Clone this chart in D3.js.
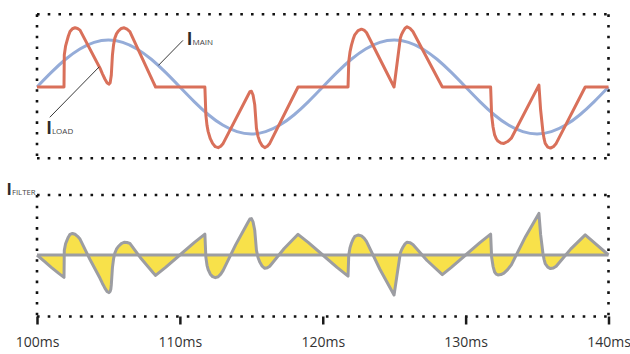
<!DOCTYPE html>
<html>
<head>
<meta charset="utf-8">
<script src="https://cdn.jsdelivr.net/npm/d3@7"></script>
<style>
  html, body { margin: 0; padding: 0; background: #fff; }
  text { font-family: "Open Sans", sans-serif; }
</style>
</head>
<body>
<div id="chart"></div>
<script>
// Data (time in ms, current in relative units)

// Mains current, sampled every 1 ms
const mainTimes = d3.range(100, 141);
const mainValues = [
  0, 0.31, 0.59, 0.81, 0.95, 1, 0.95, 0.81, 0.59, 0.31,
  0, -0.31, -0.59, -0.81, -0.95, -1, -0.95, -0.81, -0.59, -0.31,
  0, 0.31, 0.59, 0.81, 0.95, 1, 0.95, 0.81, 0.59, 0.31,
  0, -0.31, -0.59, -0.81, -0.95, -1, -0.95, -0.81, -0.59, -0.31,
  0
];

// Load current
const loadTimes = [
  100, 101.89, 101.91, 102.0, 102.08, 102.19, 102.31, 102.48, 102.66, 102.84, 103.01,
  104.41, 104.58, 104.75, 104.9, 105.03, 105.12, 105.2, 105.28, 105.36, 105.45, 105.56,
  105.69, 105.9, 106.1, 106.3, 106.5, 108.13, 108.3,
  111.75, 111.82, 111.9, 111.98, 112.13, 112.29, 112.48, 112.68, 112.86, 113.03,
  114.78, 114.9, 115.01, 115.12, 115.24, 115.36, 115.47, 115.59, 115.76, 115.94, 116.12, 116.29,
  118.27,
  121.77, 121.82, 121.91, 122.01, 122.12, 122.24, 122.47, 122.71, 122.89, 123.06,
  124.99, 125.43, 125.52, 125.62, 125.76, 125.9, 126.1, 126.31, 128.37,
  131.75, 131.82, 131.92, 132.03, 132.14, 132.26, 132.47, 132.68, 132.94, 133.2,
  135.13, 135.25, 135.41, 135.49, 135.57, 135.75, 135.94, 136.14, 136.34, 138.37, 140
];
const loadValues = [
  0, 0, 0.68, 0.87, 0.96, 1.08, 1.18, 1.24, 1.26, 1.245, 1.21,
  0.40, 0.28, 0.17, 0.09, 0.06, 0.09, 0.25, 0.68, 0.90, 1.04, 1.13,
  1.19, 1.245, 1.26, 1.23, 1.18, 0.11, 0,
  0, -0.60, -0.82, -0.95, -1.10, -1.20, -1.27, -1.29, -1.26, -1.20,
  -0.17, -0.10, -0.09, -0.17, -0.38, -0.88, -1.05, -1.16, -1.25, -1.29, -1.26, -1.20,
  0,
  0, 0.54, 0.75, 0.89, 1.01, 1.11, 1.20, 1.23, 1.21, 1.16,
  0, 1.04, 1.12, 1.18, 1.25, 1.28, 1.25, 1.18, 0,
  0, -0.60, -0.85, -1.02, -1.10, -1.15, -1.19, -1.20, -1.16, -1.09,
  0.04, -0.49, -0.95, -1.10, -1.20, -1.28, -1.30, -1.27, -1.20, 0, 0
];

// Filter current
const filterTimes = [
  100, 100.5, 101, 101.5, 101.89, 101.91, 102.0, 102.08, 102.19, 102.31, 102.48, 102.66,
  102.84, 103.01, 103.7, 104.41, 104.58, 104.69, 104.75, 104.9, 105.03, 105.12, 105.17,
  105.2, 105.28, 105.36, 105.45, 105.56, 105.69, 105.9, 106.1, 106.3, 106.5, 107.3,
  108.13, 108.3,
  109, 110, 111, 111.75, 111.82, 111.9, 111.98, 112.13, 112.29, 112.48, 112.68, 112.86,
  113.03, 113.9, 114.78, 114.9, 115.01, 115.12, 115.24, 115.36, 115.47, 115.59, 115.76,
  115.94, 116.12, 116.29, 117.3, 118.27,
  119, 120, 121, 121.77, 121.82, 121.91, 122.01, 122.12, 122.24, 122.47, 122.71, 122.89,
  123.06, 124.0, 124.99, 125.43, 125.52, 125.62, 125.76, 125.9, 126.1, 126.31, 127.3, 128.37,
  129, 130, 131, 131.75, 131.82, 131.92, 132.03, 132.14, 132.26, 132.47, 132.68, 132.94,
  133.2, 134.2, 135.13, 135.25, 135.41, 135.49, 135.57, 135.75, 135.94, 136.14, 136.34,
  137.35, 138.37, 139, 140
];
const filterValues = [
  0, -0.156, -0.309, -0.454, -0.559, 0.115, 0.282, 0.352, 0.445, 0.516, 0.538, 0.518,
  0.467, 0.399, -0.107, -0.583, -0.711, -0.785, -0.827, -0.91, -0.94, -0.909, -0.849,
  -0.748, -0.316, -0.094, 0.05, 0.145, 0.213, 0.285, 0.319, 0.313, 0.289, -0.095,
  -0.444, -0.509,
  -0.309, 0, 0.309, 0.522, -0.059, -0.258, -0.368, -0.48, -0.541, -0.567, -0.543, -0.479,
  -0.384, 0.253, 0.827, 0.9, 0.91, 0.829, 0.617, 0.114, -0.061, -0.177, -0.279,
  -0.333, -0.32, -0.281, 0.162, 0.517,
  0.309, 0, -0.309, -0.528, -0.001, 0.185, 0.3, 0.392, 0.463, 0.5, 0.478, 0.422,
  0.34, -0.356, -1.0, 0.049, 0.133, 0.199, 0.278, 0.32, 0.309, 0.264, -0.137, -0.49,
  -0.309, 0, 0.309, 0.522, -0.059, -0.283, -0.425, -0.478, -0.498, -0.489, -0.453, -0.364,
  -0.245, 0.464, 1.04, 0.508, 0.044, -0.109, -0.213, -0.303, -0.339, -0.327, -0.281,
  0.147, 0.504, 0.309, 0
];

// Axis ticks
const tickValues = [100, 110, 120, 130, 140];
const tickLabels = ["100ms", "110ms", "120ms", "130ms", "140ms"];

// Layout
const width = 630;
const height = 354;
const left = 37, right = 608.5;
const top1 = 14.3, bottom1 = 158.3;
const top2 = 195, bottom2 = 316.5;

const mainColor = "#95acd8";
const loadColor = "#d9705a";
const filterFill = "#f8e14a";
const filterStroke = "#9c9da2";

const svg = d3.select("#chart")
  .append("svg")
    .attr("width", width)
    .attr("height", height);

const x = d3.scaleLinear().domain([100, 140]).range([left, right]);
const yTop = d3.scaleLinear().domain([-1.5, 1.5]).range([157.5, 16.5]);
const yBot = d3.scaleLinear().domain([-1.5, 1.5]).range([315, 195]);

// Dotted frame
function dottedFrame(x0, y0, x1, y1) {
  const g = svg.append("g")
    .attr("stroke", "#111")
    .attr("stroke-width", 2.6)
    .attr("stroke-dasharray", "2.6 8.1")
    .attr("fill", "none");
  g.append("line").attr("x1", x0).attr("y1", y0).attr("x2", x1).attr("y2", y0);
  g.append("line").attr("x1", x0).attr("y1", y1).attr("x2", x1).attr("y2", y1);
  g.append("line").attr("x1", x0).attr("y1", y0).attr("x2", x0).attr("y2", y1);
  g.append("line").attr("x1", x1).attr("y1", y0).attr("x2", x1).attr("y2", y1);
}
dottedFrame(left, top1, right, bottom1);
dottedFrame(left, top2, right, bottom2);

// Top panel lines
const mainData = mainTimes.map((t, i) => ({t, v: mainValues[i]}));
const loadData = loadTimes.map((t, i) => ({t, v: loadValues[i]}));
const filterData = filterTimes.map((t, i) => ({t, v: filterValues[i]}));

svg.append("path")
  .datum(mainData)
  .attr("fill", "none")
  .attr("stroke", mainColor)
  .attr("stroke-width", 3)
  .attr("d", d3.line().x(d => x(d.t)).y(d => yTop(d.v)).curve(d3.curveNatural));

svg.append("path")
  .datum(loadData)
  .attr("fill", "none")
  .attr("stroke", loadColor)
  .attr("stroke-width", 3)
  .attr("stroke-linejoin", "round")
  .attr("d", d3.line().x(d => x(d.t)).y(d => yTop(d.v)));

// Bottom panel: filled area, zero line and curve
svg.append("path")
  .datum(filterData)
  .attr("fill", filterFill)
  .attr("d", d3.area().x(d => x(d.t)).y0(yBot(0)).y1(d => yBot(d.v)));

svg.append("line")
  .attr("x1", x(100)).attr("x2", x(140))
  .attr("y1", yBot(0)).attr("y2", yBot(0))
  .attr("stroke", filterStroke)
  .attr("stroke-width", 3);

svg.append("path")
  .datum(filterData)
  .attr("fill", "none")
  .attr("stroke", filterStroke)
  .attr("stroke-width", 3)
  .attr("stroke-linejoin", "round")
  .attr("d", d3.line().x(d => x(d.t)).y(d => yBot(d.v)));

// X axis
const axis = svg.append("g")
  .attr("transform", `translate(0,${bottom2})`)
  .call(d3.axisBottom(x)
    .tickValues(tickValues)
    .tickSize(8)
    .tickFormat((d, i) => tickLabels[i]));
axis.select(".domain").remove();
axis.selectAll(".tick line")
  .attr("stroke", "#1a1a1a")
  .attr("stroke-width", 2.5);
axis.selectAll(".tick text")
  .attr("y", 21)
  .attr("fill", "#333")
  .style("font-size", "14px")
  .style("font-family", "'Open Sans', sans-serif");

// Labels with leader lines
function currentLabel(sub, lx, ly, size, subSize) {
  const t = svg.append("text")
    .attr("x", lx)
    .attr("y", ly)
    .attr("fill", "#2b2b2b");
  t.append("tspan").text("I")
    .style("font-size", size + "px")
    .style("font-weight", 700);
  t.append("tspan").text(sub)
    .style("font-size", subSize + "px")
    .attr("fill", "#444");
}

// IMAIN leader ends on the mains curve at ~108.5 ms
svg.append("line")
  .attr("x1", x(108.5)).attr("y1", yTop(0.46))
  .attr("x2", x(108.5) + 24.5).attr("y2", yTop(0.46) - 25)
  .attr("stroke", "#222").attr("stroke-width", 0.9);
currentLabel("MAIN", 186.8, 44.5, 17, 8);

// ILOAD leader ends on the load curve at ~104.36 ms
svg.append("line")
  .attr("x1", x(104.36)).attr("y1", yTop(0.43))
  .attr("x2", x(104.36) - 49.5).attr("y2", yTop(0.43) + 50.5)
  .attr("stroke", "#222").attr("stroke-width", 0.9);
currentLabel("LOAD", 46.3, 134, 17, 8);

currentLabel("FILTER", 6.6, 195, 16, 7.8);
</script>
</body>
</html>
